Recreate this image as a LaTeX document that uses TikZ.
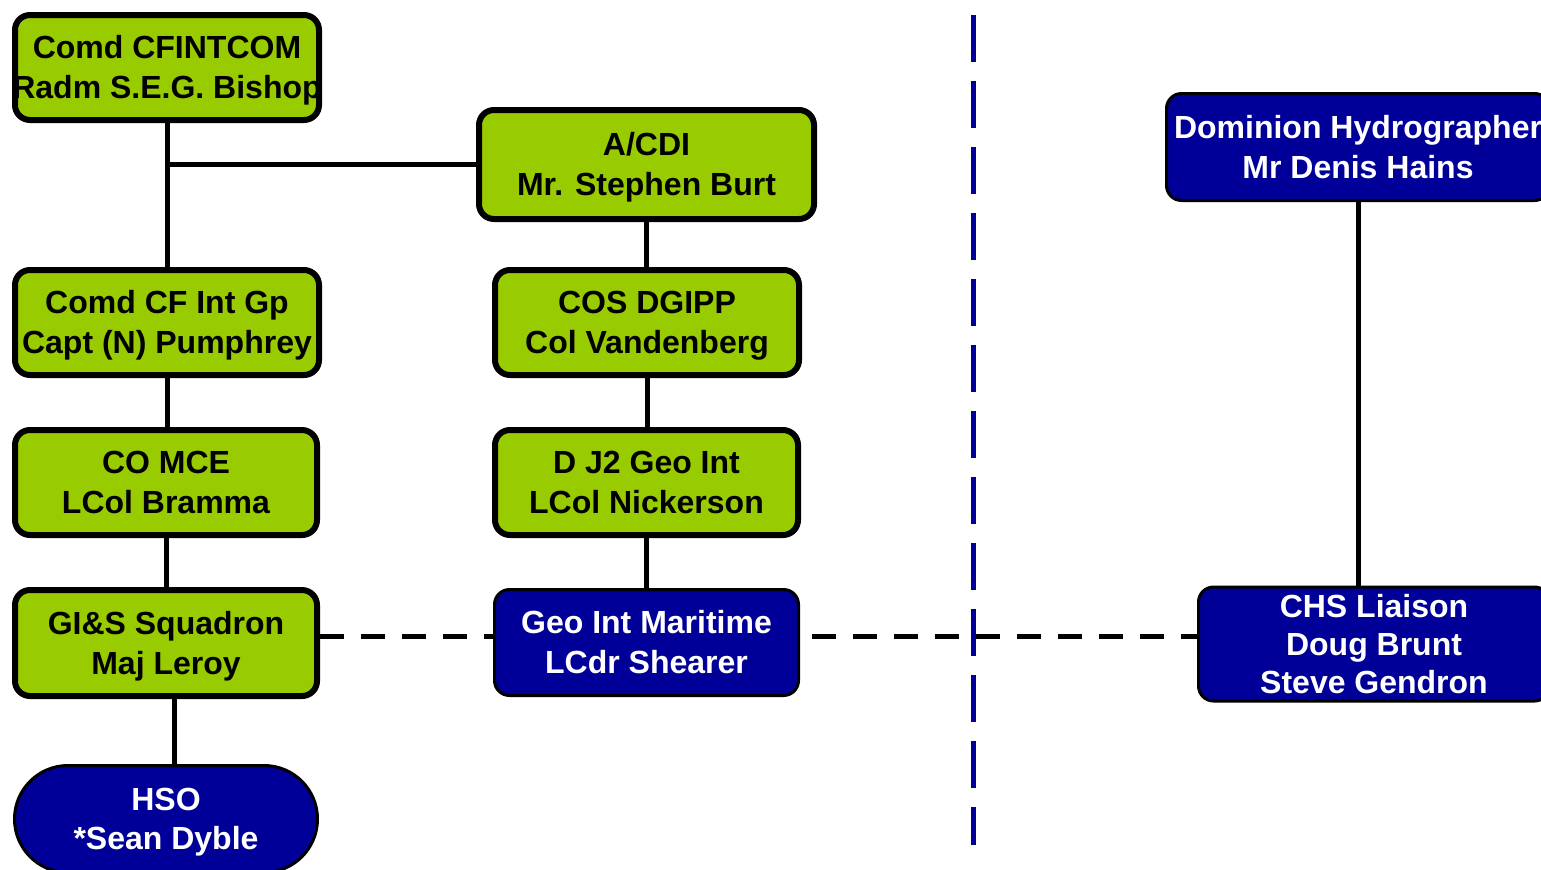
\documentclass[tikz,border=0pt]{standalone}
\usepackage{fontspec}
\setmainfont{Liberation Sans}
\usetikzlibrary{backgrounds}
\definecolor{boxgreen}{HTML}{99CC00}
\definecolor{boxblue}{HTML}{000099}
\newcommand\zw[1]{\makebox[0pt]{\rule[-4pt]{0pt}{19pt}#1}}
\begin{document}
\begin{tikzpicture}[x=0.5pt,y=-0.5pt,
  boxfont/.style={font=\bfseries\fontsize{16}{20}\selectfont},
  greenbox/.style={boxfont, draw=black, fill=boxgreen, line width=3pt, rounded corners=7.5pt, inner sep=0pt, align=center, text=black},
  bluebox/.style={boxfont, draw=black, fill=boxblue, line width=1.5pt, rounded corners=7.5pt, inner sep=0pt, align=center, text=white},
  link/.style={line width=2.5pt, draw=black},
  dashlink/.style={line width=2.5pt, draw=black, dash pattern=on 12pt off 8.5pt},
  seplink/.style={line width=2.5pt, draw=boxblue, dash pattern=on 23.5pt off 9.5pt},
]
\useasboundingbox (0,0) rectangle (1541,869);

\node[greenbox, minimum width=152pt, minimum height=52.5pt] (n1) at (167,67.5) {\zw{Comd CFINTCOM}\\\zw{Radm S.E.G. Bishop}};
\node[greenbox, minimum width=167.5pt, minimum height=54.5pt] (n2) at (646.5,164.5) {\zw{A/CDI}\\\zw{Mr. Stephen Burt}};
\node[greenbox, minimum width=152pt, minimum height=52.5pt] (n3) at (167,322.5) {\zw{Comd CF Int Gp}\\\zw{Capt (N) Pumphrey}};
\node[greenbox, minimum width=152pt, minimum height=52.5pt] (n4) at (647,322.5) {\zw{COS DGIPP}\\\zw{Col Vandenberg}};
\node[greenbox, minimum width=151pt, minimum height=52.5pt] (n5) at (166,482.5) {\zw{CO MCE}\\\zw{LCol Bramma}};
\node[greenbox, minimum width=151.5pt, minimum height=52.5pt] (n6) at (646.5,482.5) {\zw{D J2 Geo Int}\\\zw{LCol Nickerson}};
\node[greenbox, minimum width=151pt, minimum height=53pt] (n7) at (166,643) {\zw{GI\&S Squadron}\\\zw{Maj Leroy}};
\node[bluebox, minimum width=152pt, minimum height=53pt] (n8) at (646.5,642.5) {\zw{Geo Int Maritime}\\\zw{LCdr Shearer}};
\node[bluebox, minimum width=151.5pt, minimum height=53.5pt, rounded corners=26.75pt, font=\bfseries\fontsize{16}{19.25}\selectfont] (n9) at (166,819) {\zw{HSO}\\\zw{*Sean Dyble}};
\node[bluebox, minimum width=191.5pt, minimum height=53.5pt] (n10) at (1358,147) {\zw{Dominion Hydrographer}\\\zw{Mr Denis Hains}};
\node[bluebox, minimum width=175.5pt, minimum height=54.5pt, font=\bfseries\fontsize{16}{19}\selectfont] (n11) at (1374,644) {\zw{CHS Liaison}\\\zw{Doug Brunt}\\\zw{Steve Gendron}};

\coordinate (sepT) at (973,15);
\coordinate (sepB) at (973,845);

\begin{pgfonlayer}{background}
  \draw[link] (n1.south) -- (n1.south |- n3.north);
  \draw[link] (n2.west) -- (n2.west -| n1.south);
  \draw[link] (n2.south) -- (n2.south |- n4.north);
  \draw[link] (n3.south) -- (n3.south |- n5.north);
  \draw[link] (n4.south) -- (n4.south |- n6.north);
  \draw[link] (n5.south) -- (n5.south |- n7.north);
  \draw[link] (n6.south) -- (n6.south |- n8.north);
  \draw[link] ([xshift=4pt]n7.south) -- ([xshift=4pt]n7.south |- n9.north);
  \draw[link] (n10.south) -- (n10.south |- n11.north);
  \draw[dashlink] ([yshift=3.5pt]n7.east) -- ([yshift=3.5pt]n7.east -| n11.west);
  \draw[seplink] (sepT) -- (sepB);
\end{pgfonlayer}
\end{tikzpicture}
\end{document}
